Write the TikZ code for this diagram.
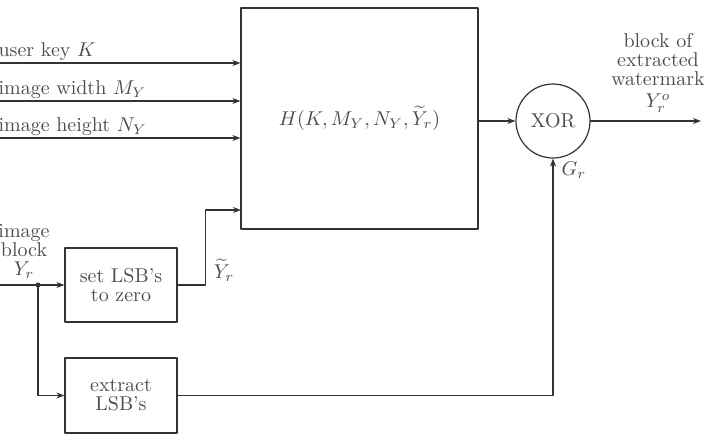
\documentclass[tikz,border=0pt]{standalone}
\usepackage{amsmath,amssymb}
\usetikzlibrary{arrows.meta}
\tikzset{
  every picture/.style={line join=round, line cap=round, >={Stealth[length=4pt,width=3pt]}},
  lbl/.style={font=\fontsize{10}{9.5}\selectfont, align=center, inner sep=0pt, text=black!70},
  block/.style={lbl, draw},
}
\begin{document}
\begin{tikzpicture}[x=0.5pt,y=-0.5pt,line width=0.6pt,color=black!80]
\useasboundingbox (0,0) rectangle (714,440);
% blocks
\node[block, minimum width=118.5pt, minimum height=110.5pt] (hash) at (359.5,118.5) {$H(K,M_Y,N_Y,\widetilde{Y}_r)$};
\node[block, minimum width=56pt, minimum height=37pt] (setlsb) at (121,285) {set LSB's\\to zero};
\node[block, minimum width=56pt, minimum height=37.5pt] (extract) at (121,395.5) {extract\\LSB's};
\node[block, circle, minimum size=37pt] (xor) at (553,121) {XOR};
% key and image size inputs
\foreach \y/\t [count=\i] in {63/{user key $K$}, 101/{image width $M_Y$}, 138/{image height $N_Y$}} {
  \coordinate (in\i) at (-2,\y);
  \draw[->] (in\i) -- (in\i -| hash.west) node[lbl, pos=0, anchor=base west, yshift=3.5pt] {\t};
}
% image block
\node[lbl] at (24,251) {image\\block\\$Y_r$};
\coordinate (yin) at (-2,285);
\coordinate (split) at (38,285);
\draw (yin) -- (split);
\draw[->] (split) -- (setlsb.west);
\draw[->] (split) |- (extract.west);
\fill (split) circle (2.5);
\coordinate (ytin) at (241,210);
\draw[->] (setlsb.east) -- ++(28,0) |- (ytin);
\node[lbl] at (224,270) {$\widetilde{Y}_r$};
% output
\draw[->] (hash.east |- xor.west) -- (xor.west);
\coordinate (out) at (701,121);
\draw[->] (xor.east) -- (out);
\node[lbl, anchor=south] at (658,113) {block of\\extracted\\watermark\\[1.5pt]$Y_r^o$};
\draw[->] (extract.east) -| (xor.south);
\node[lbl] at (574,170) {$G_r$};
\end{tikzpicture}
\end{document}
